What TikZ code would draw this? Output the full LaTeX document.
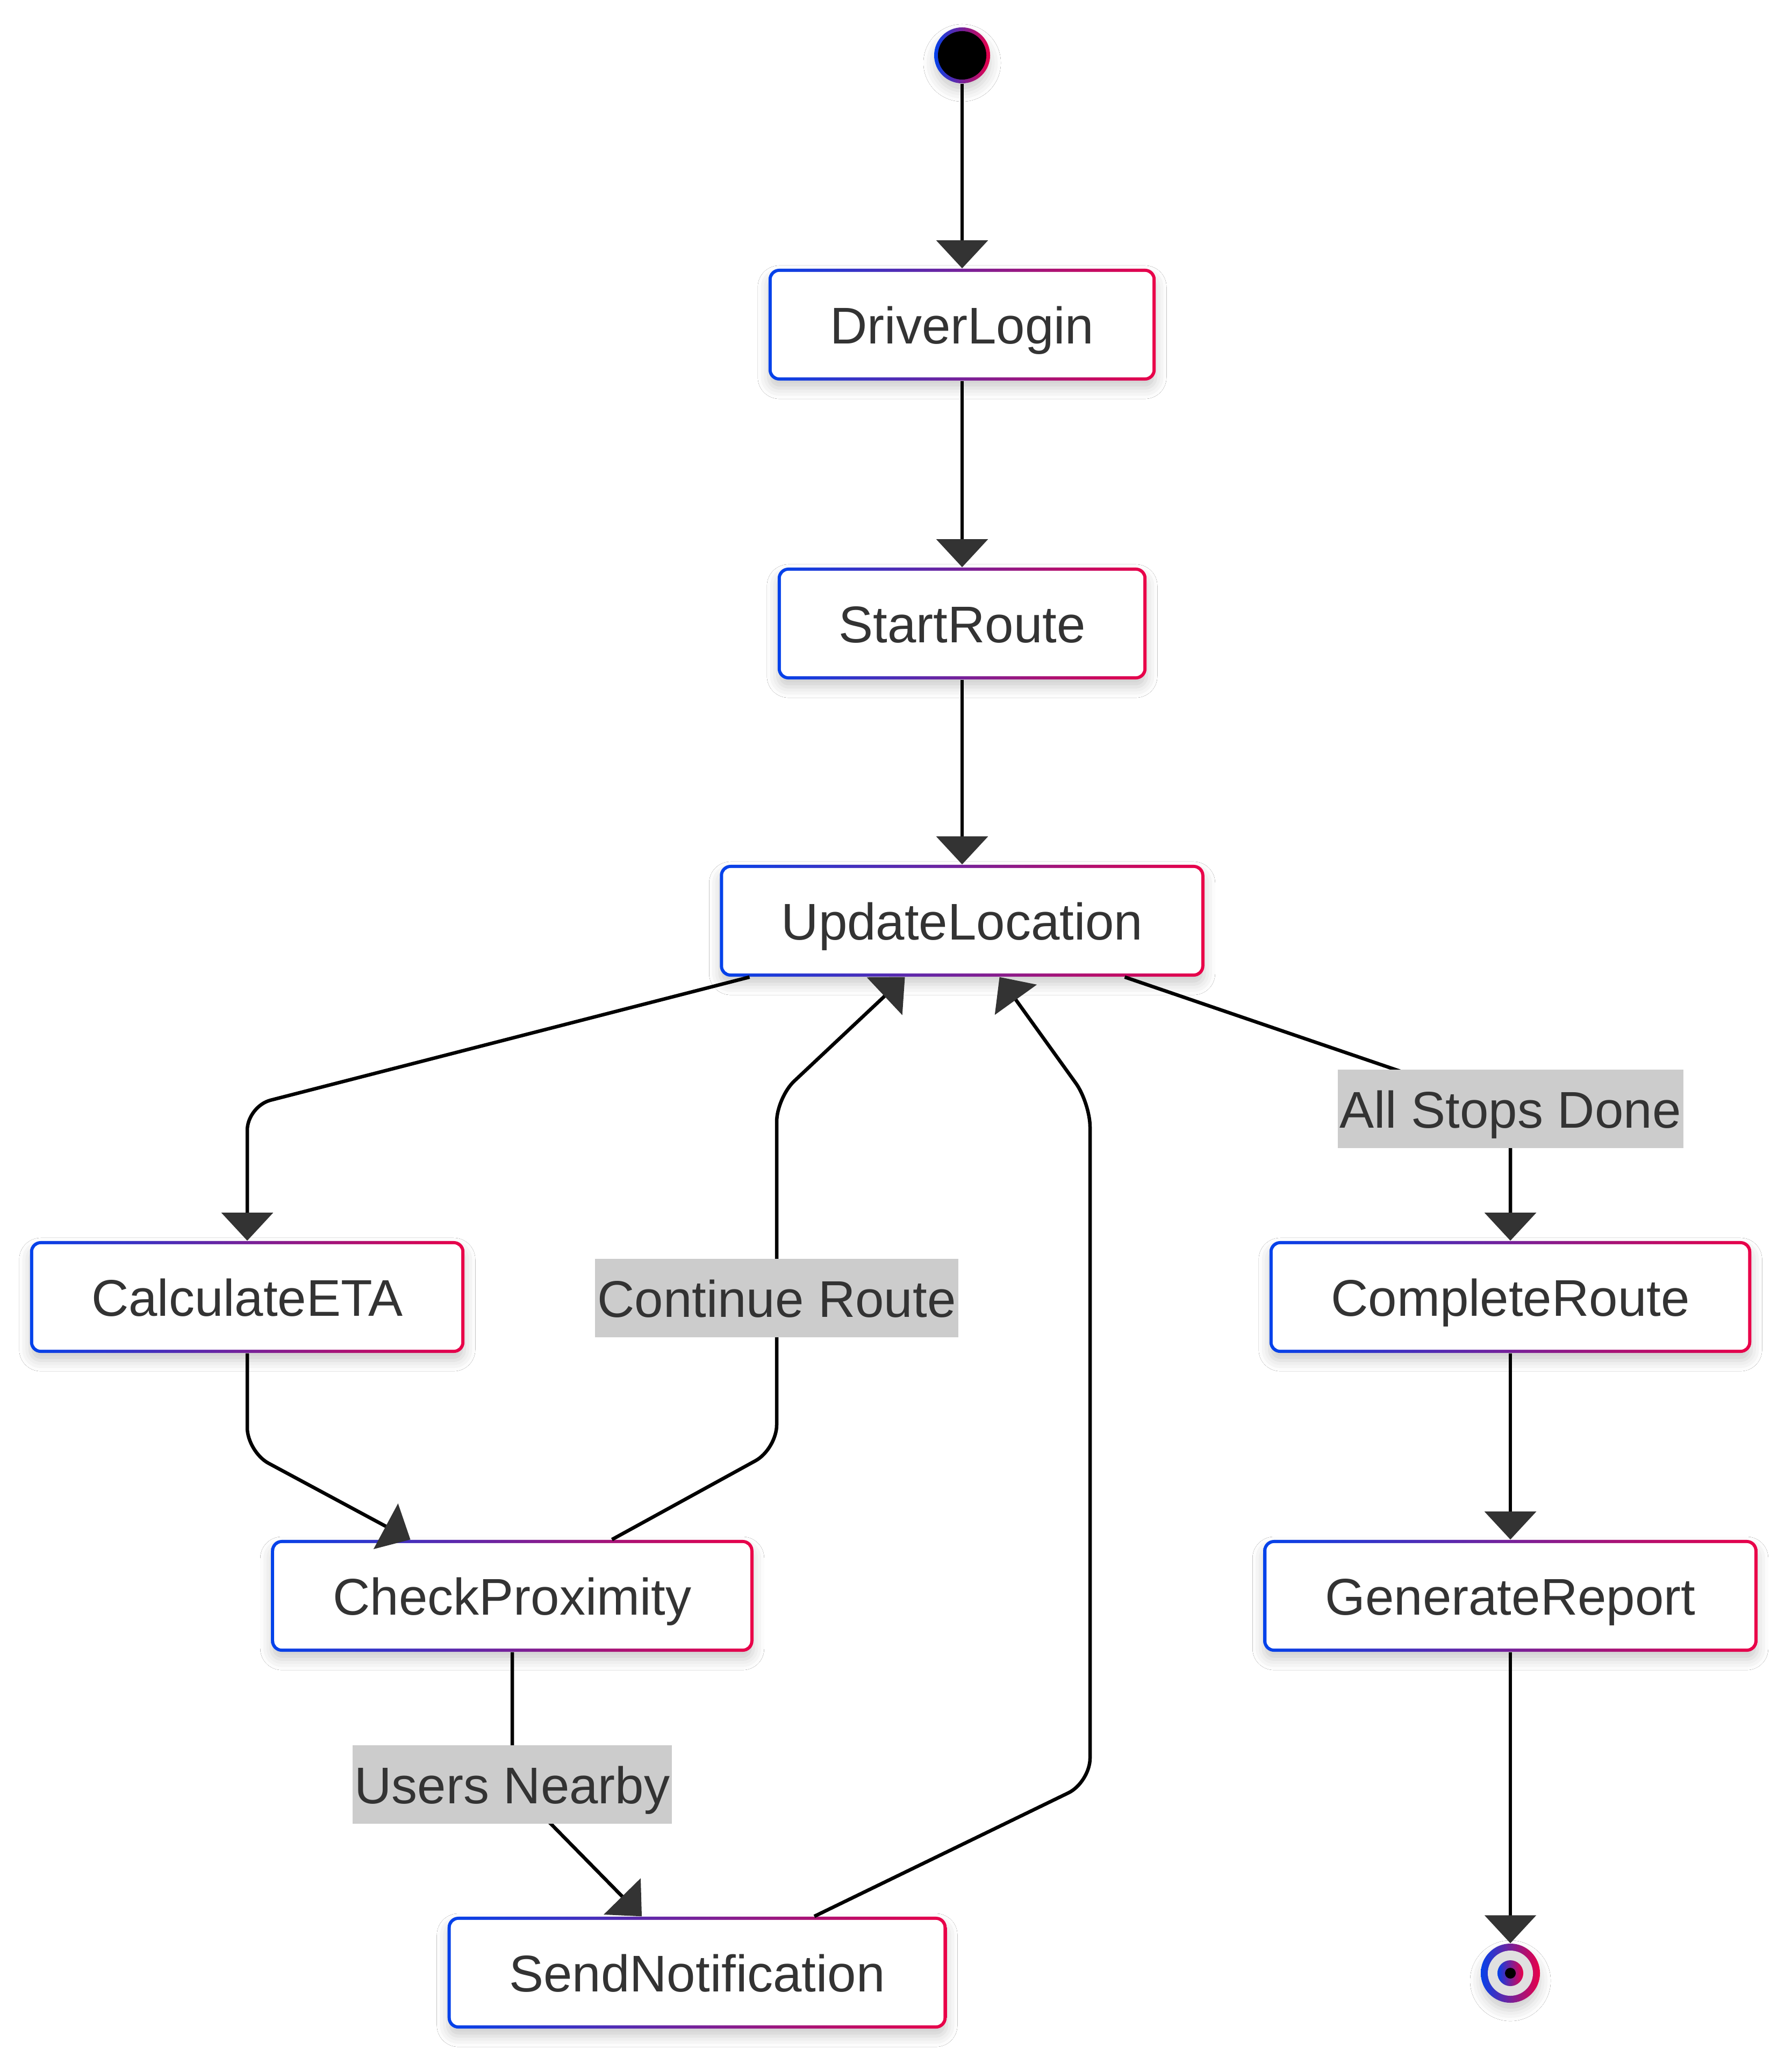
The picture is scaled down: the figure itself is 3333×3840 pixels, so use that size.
\documentclass[tikz,border=0pt]{standalone}
\usepackage{fontspec}
\setmainfont{Liberation Sans}
\usetikzlibrary{arrows.meta,calc,shadows.blur}
\definecolor{blueC}{RGB}{3,66,235}
\definecolor{redC}{RGB}{234,0,72}
\definecolor{txtC}{HTML}{333333}
\definecolor{arrC}{HTML}{333333}
\definecolor{lblC}{HTML}{CCCCCC}
\definecolor{ringC}{HTML}{E0E0E0}
\newcommand\dfont{\fontsize{27.3pt}{32pt}\selectfont}
\tikzset{
  softshadow/.style={blur shadow={shadow xshift=0cm, shadow yshift=-0.14cm, shadow blur radius=0.2cm, shadow opacity=20}},
  statebox/.style={rectangle, rounded corners=0.2cm, minimum height=2.08cm, inner sep=0pt,
    text height=0.70cm, text depth=0cm,
    left color=blueC, right color=redC, text=txtC, font=\dfont, softshadow,
    path picture={\fill[white, rounded corners=0.14cm]
      ($(path picture bounding box.south west)+(6,-6)$) rectangle
      ($(path picture bounding box.north east)+(-6,6)$);}},
  startdot/.style={circle, minimum size=1.04cm, inner sep=0pt, left color=blueC, right color=redC, softshadow,
    path picture={\fill[black] (path picture bounding box.center) circle (0.45cm);}},
  enddot/.style={circle, minimum size=1.10cm, inner sep=0pt, left color=blueC, right color=redC, softshadow,
    path picture={\fill[ringC] (path picture bounding box.center) circle (0.42cm);
      \shade[left color=blueC, right color=redC] (path picture bounding box.center) circle (0.24cm);
      \fill[black] (path picture bounding box.center) circle (0.10cm);}},
  flow/.style={draw=black, line width=0.065cm, rounded corners=0.45cm,
    -{Triangle[length=0.52cm, width=0.95cm, color=arrC]}},
  lbl/.style={fill=lblC, text=txtC, font=\dfont, inner xsep=0.04cm, inner ysep=0pt, minimum height=1.45cm,
    text height=0.70cm, text depth=0cm}
}
\begin{document}
\begin{tikzpicture}[x=0.01cm, y=-0.01cm]
\useasboundingbox (0,0) rectangle (3333,3840);
\fill[white] (0,0) rectangle (3333,3840);

% states
\node[startdot] (start) at (1790,103) {};
\node[statebox, minimum width=7.20cm] (login) at (1790,604) {DriverLogin};
\node[statebox, minimum width=6.86cm] (route) at (1790,1160) {StartRoute};
\node[statebox, minimum width=9.01cm] (upd) at (1790,1713) {UpdateLocation};
\node[statebox, minimum width=8.08cm] (eta) at (460,2413) {CalculateETA};
\node[statebox, minimum width=8.97cm] (prox) at (953,2969) {CheckProximity};
\node[statebox, minimum width=9.28cm] (notif) at (1297,3670) {SendNotification};
\node[statebox, minimum width=8.96cm] (complete) at (2810,2413) {CompleteRoute};
\node[statebox, minimum width=9.19cm] (report) at (2810,2969) {GenerateReport};
\node[enddot] (end) at (2810,3671) {};

% bend points and label positions
\coordinate (c1) at (460,2058);
\coordinate (c2) at (460,2701);
\coordinate (c3) at (1445,2696);
\coordinate (c4) at (1445,2042);
\coordinate (c5) at (2028,3316);
\coordinate (c6) at (2028,2052);
\coordinate (uc) at (953,3320);
\coordinate (sc) at (2810,2063);
\coordinate (cc) at (1445,2415);

% connectors
\draw[flow] (start.south) -- (login.north);
\draw[flow] (login.south) -- (route.north);
\draw[flow] (route.south) -- (upd.north);
\draw[flow] ($(upd.south west)+(56,0)$) -- (c1) -- (eta.north);
\draw[flow] (eta.south) -- (c2) -- ($(prox.north west)+(260,0)$);
\draw[flow] ($(prox.north west)+(635,0)$) -- (c3) -- (c4) -- ($(upd.south west)+(345,0)$);
\draw[flow] (prox.south) -- (uc) -- ($(notif.north west)+(362,0)$);
\draw[flow] ($(notif.north west)+(683,0)$) -- (c5) -- (c6) -- ($(upd.south west)+(521,0)$);
\draw[flow] ($(upd.south west)+(754,0)$) -- (sc) -- (complete.north);
\draw[flow] (complete.south) -- (report.north);
\draw[flow] (report.south) -- (end.north);

% labels
\node[lbl] (lblCont) at (cc) {Continue Route};
\node[lbl] (lblUsers) at (uc) {Users Nearby};
\node[lbl] (lblStops) at (sc) {All Stops Done};
\end{tikzpicture}
\end{document}
